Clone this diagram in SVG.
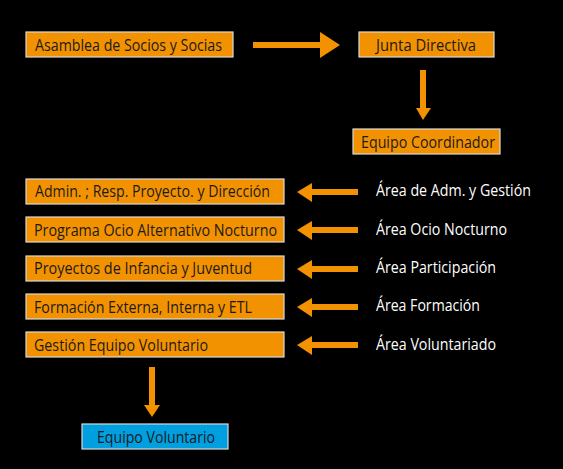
<svg xmlns="http://www.w3.org/2000/svg" width="563" height="469" viewBox="0 0 563 469">
<style>
.box{fill:#f39200;stroke:#d9d9d9;stroke-width:1.2}
.blue{fill:#009fe0;stroke:#d9d9d9;stroke-width:1.2}
.t{font-family:"Open Sans","Liberation Sans",sans-serif;font-size:15.5px;fill:#1a1a1a}
.w{font-family:"Open Sans","Liberation Sans",sans-serif;font-size:15.5px;fill:#ffffff}
.arr{fill:#f39200}
</style>
<rect width="563" height="469" fill="#000"/>
<g id="connectors">
<polygon class="arr" points="253,42 320,42 320,32 340,45 320,58 320,48 253,48"/>
<polygon class="arr" points="420,70 426,70 426,108 431,108 423,120 416,108 420,108"/>
<polygon class="arr" points="358,189 312,189 312,183 297,192 312,202 312,195 358,195"/>
<polygon class="arr" points="358,227 312,227 312,221 297,230 312,240 312,233 358,233"/>
<polygon class="arr" points="358,266 312,266 312,260 297,269 312,279 312,272 358,272"/>
<polygon class="arr" points="358,304 312,304 312,298 297,307 312,317 312,310 358,310"/>
<polygon class="arr" points="358,342 312,342 312,336 297,345 312,355 312,348 358,348"/>
<polygon class="arr" points="149,367 155,367 155,405 160,405 152,417 144,405 149,405"/>
</g>
<g id="asamblea"><rect class="box" x="26" y="32" width="207" height="25"/><text class="t" x="35" y="51" textLength="187" lengthAdjust="spacingAndGlyphs">Asamblea de Socios y Socias</text></g>
<g id="junta"><rect class="box" x="359" y="32" width="135" height="25"/><text class="t" x="376" y="51" textLength="100" lengthAdjust="spacingAndGlyphs">Junta Directiva</text></g>
<g id="coordinador"><rect class="box" x="353" y="129" width="147" height="25"/><text class="t" x="361" y="148" textLength="134" lengthAdjust="spacingAndGlyphs">Equipo Coordinador</text></g>
<g id="admin"><rect class="box" x="26" y="179" width="258" height="25"/><text class="t" x="35" y="197" textLength="235" lengthAdjust="spacingAndGlyphs">Admin. ; Resp. Proyecto. y Dirección</text></g>
<g id="ocio"><rect class="box" x="26" y="217" width="258" height="25"/><text class="t" x="34" y="236" textLength="243" lengthAdjust="spacingAndGlyphs">Programa Ocio Alternativo Nocturno</text></g>
<g id="infancia"><rect class="box" x="26" y="256" width="258" height="25"/><text class="t" x="34" y="274" textLength="218" lengthAdjust="spacingAndGlyphs">Proyectos de Infancia y Juventud</text></g>
<g id="formacion"><rect class="box" x="26" y="294" width="258" height="25"/><text class="t" x="34" y="313" textLength="218" lengthAdjust="spacingAndGlyphs">Formación Externa, Interna y ETL</text></g>
<g id="gestion"><rect class="box" x="26" y="332" width="258" height="25"/><text class="t" x="34" y="351" textLength="174" lengthAdjust="spacingAndGlyphs">Gestión Equipo Voluntario</text></g>
<g id="voluntario"><rect class="blue" x="82" y="424" width="146" height="25"/><text class="t" x="97" y="443" textLength="118" lengthAdjust="spacingAndGlyphs">Equipo Voluntario</text></g>
<g id="area-adm"><text class="w" x="376" y="196" textLength="155" lengthAdjust="spacingAndGlyphs">Área de Adm. y Gestión</text></g>
<g id="area-ocio"><text class="w" x="376" y="235" textLength="131" lengthAdjust="spacingAndGlyphs">Área Ocio Nocturno</text></g>
<g id="area-part"><text class="w" x="376" y="273" textLength="120" lengthAdjust="spacingAndGlyphs">Área Participación</text></g>
<g id="area-form"><text class="w" x="376" y="311" textLength="104" lengthAdjust="spacingAndGlyphs">Área Formación</text></g>
<g id="area-vol"><text class="w" x="376" y="350" textLength="120" lengthAdjust="spacingAndGlyphs">Área Voluntariado</text></g>
</svg>
